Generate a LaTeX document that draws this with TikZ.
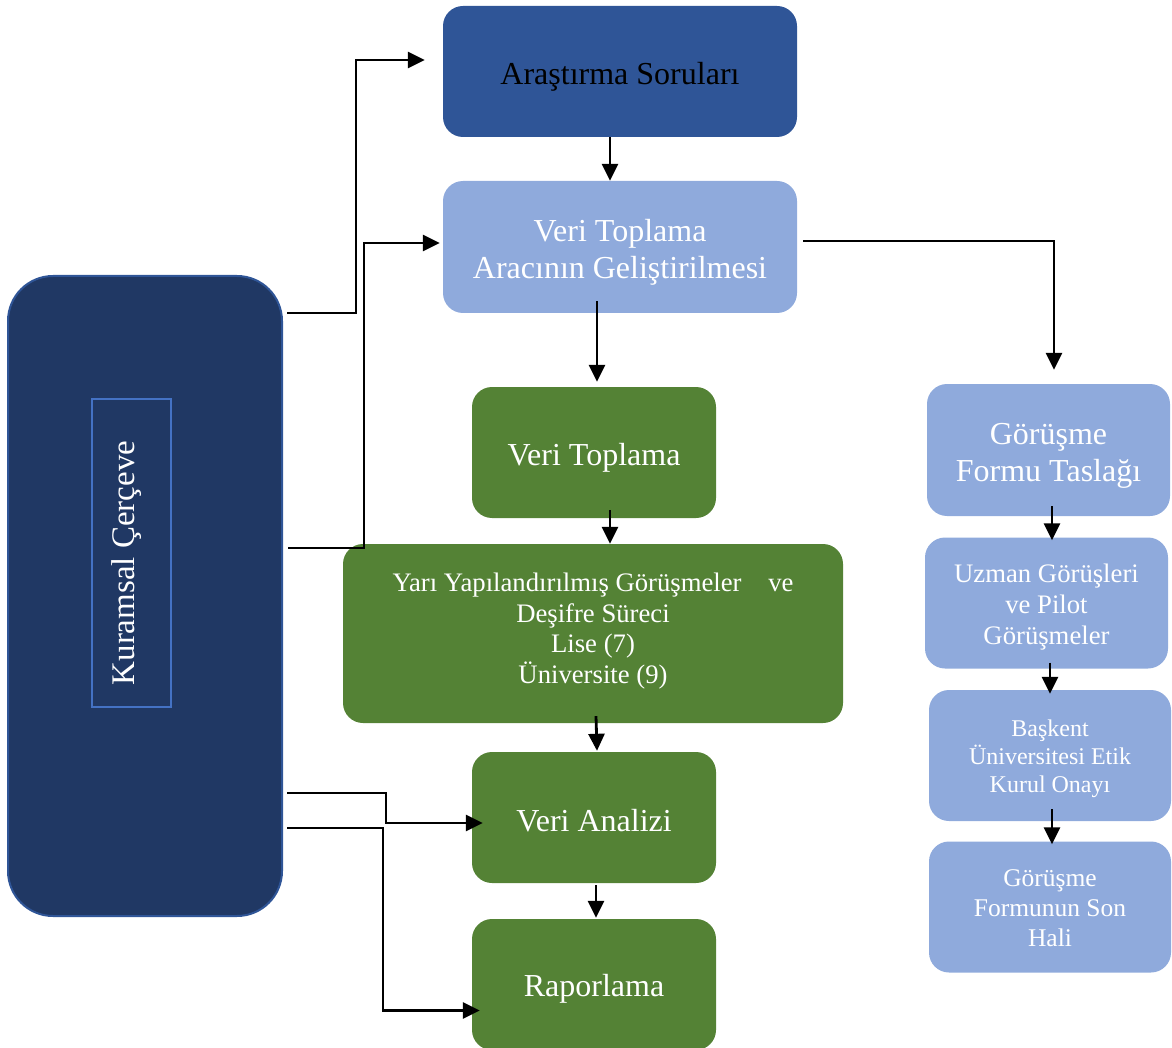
\documentclass[tikz,border=0pt]{standalone}
\usepackage{fontspec}
\setmainfont{Liberation Serif}
\usetikzlibrary{arrows.meta}
\definecolor{navy}{HTML}{203864}
\definecolor{midblue}{HTML}{2F5597}
\definecolor{lightblue}{HTML}{8FAADC}
\definecolor{frameblue}{HTML}{4472C4}
\definecolor{leaf}{HTML}{548235}
\tikzset{
  box/.style={rounded corners=20pt, inner sep=0pt},
  bluebox/.style={box, fill=lightblue},
  greenbox/.style={box, fill=leaf},
  txt/.style={align=center, text=white, inner sep=0pt},
  arr/.style={line width=2.8pt, -{Triangle[length=17pt,width=16pt]}},
  big/.style={font=\fontsize{32}{37}\selectfont},
}
\begin{document}
\begin{tikzpicture}[x=1pt,y=-1pt]
\useasboundingbox (0,0) rectangle (1172,1048);
% left frame
\node[box, rounded corners=45pt, fill=navy, draw=midblue, line width=2pt,
  minimum width=274pt, minimum height=640pt] (kur) at (145,596) {};
\node[draw=frameblue, line width=2pt, minimum width=79pt, minimum height=308pt,
  inner sep=0pt] (kurframe) at (131.5,553) {};
\node[txt, rotate=90, font=\fontsize{33}{37}\selectfont] (kurlabel) at (127,563) {Kuramsal Çerçeve};
% centre column
\node[box, fill=midblue, minimum width=354pt, minimum height=131pt] (q) at (620,71.5) {};
\node[txt, text=black, big] (qt) at (620,76.5) {Araştırma Soruları};
\node[bluebox, minimum width=354pt, minimum height=132pt] (tool) at (620,247) {};
\node[txt, big] (toolt) at (620,252) {Veri Toplama\\Aracının Geliştirilmesi};
\node[greenbox, minimum width=244pt, minimum height=131pt] (collect) at (594,452.5) {};
\node[txt, big] (collectt) at (594,457.5) {Veri Toplama};
\node[greenbox, minimum width=500pt, minimum height=179pt] (semi) at (593,633.5) {};
\node[txt, font=\fontsize{26.7}{30.7}\selectfont] (semit) at (593,631)
  {Yarı Yapılandırılmış Görüşmeler\hspace{20pt} ve\\Deşifre Süreci\\Lise (7)\\Üniversite (9)};
\node[greenbox, minimum width=244pt, minimum height=131pt] (analysis) at (594,817.5) {};
\node[txt, big] (analysist) at (594,820.5) {Veri Analizi};
\node[greenbox, minimum width=244pt, minimum height=131pt] (report) at (594,984.5) {};
\node[txt, big] (reportt) at (594,988.5) {Raporlama};
% right column
\node[bluebox, minimum width=243pt, minimum height=132pt] (draft) at (1048.5,450) {};
\node[txt, big] (draftt) at (1048.5,456) {Görüşme\\Formu Taslağı};
\node[bluebox, minimum width=243pt, minimum height=131pt] (expert) at (1046.5,603) {};
\node[txt, font=\fontsize{26.7}{31}\selectfont] (expertt) at (1046.5,607) {Uzman Görüşleri\\ve Pilot\\Görüşmeler};
\node[bluebox, minimum width=242pt, minimum height=131pt] (ethics) at (1050,755.5) {};
\node[txt, font=\fontsize{24}{28}\selectfont] (ethicst) at (1050,758.5) {Başkent\\Üniversitesi Etik\\Kurul Onayı};
\node[bluebox, minimum width=242pt, minimum height=131pt] (final) at (1050,907) {};
\node[txt, font=\fontsize{25.5}{30}\selectfont] (finalt) at (1050,908) {Görüşme\\Formunun Son\\Hali};
% connectors from the frame
\draw[arr] ([shift={(4pt,283pt)}]kur.east) -- ++(69,0) |- ([shift={(-18pt,11.5pt)}]q.west);
\draw[arr] ([shift={(5pt,48pt)}]kur.east) -- ++(76,0) |- ([shift={(-3pt,4pt)}]tool.west);
\draw[arr] ([shift={(4pt,-197pt)}]kur.east) -- ++(99,0) |- ([shift={(11pt,-5.5pt)}]analysis.west);
\draw[arr] ([shift={(4pt,-232pt)}]kur.east) -- ++(96,0) |- ([shift={(8pt,-26pt)}]report.west);
% centre column arrows
\draw[arr] ([xshift=-10pt]q.south) -- ([xshift=-10pt]tool.north);
\draw[arr] ([shift={(-23pt,12pt)}]tool.south) -- ([shift={(3pt,5pt)}]collect.north);
\draw[arr] ([shift={(16pt,8pt)}]collect.south) -- ([xshift=17pt]semi.north);
\draw[arr] ([shift={(3pt,7pt)}]semi.south) -- ([shift={(3pt,1pt)}]analysis.north);
\draw[arr] ([shift={(2pt,-2pt)}]analysis.south) -- ([shift={(2pt,1pt)}]report.north);
% right column arrows
\draw[arr] ([shift={(6pt,6pt)}]tool.east) -| ([shift={(5.5pt,14pt)}]draft.north);
\draw[arr] ([shift={(3.5pt,10pt)}]draft.south) -- ([shift={(5.5pt,-3pt)}]expert.north);
\draw[arr] ([shift={(3.5pt,6pt)}]expert.south) -- ([shift={(0pt,-4pt)}]ethics.north);
\draw[arr] ([shift={(2pt,12pt)}]ethics.south) -- ([shift={(2pt,-3pt)}]final.north);
\end{tikzpicture}
\end{document}
